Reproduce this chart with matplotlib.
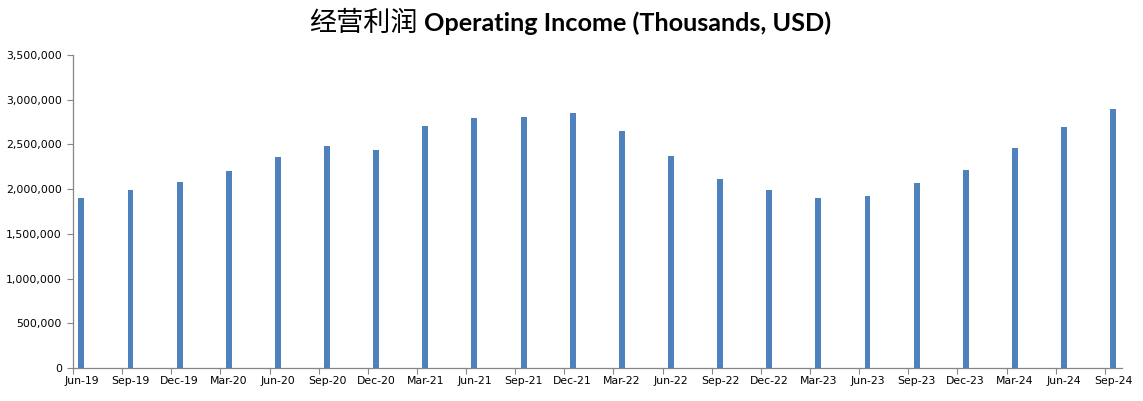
import matplotlib
matplotlib.use("Agg")
import matplotlib.pyplot as plt
import numpy as np
from matplotlib.ticker import FuncFormatter, FixedLocator

categories = ["Jun-19", "Sep-19", "Dec-19", "Mar-20", "Jun-20", "Sep-20", "Dec-20",
              "Mar-21", "Jun-21", "Sep-21", "Dec-21", "Mar-22", "Jun-22", "Sep-22",
              "Dec-22", "Mar-23", "Jun-23", "Sep-23", "Dec-23", "Mar-24", "Jun-24", "Sep-24"]
values = [1902000, 1992000, 2075000, 2207000, 2365000, 2477000, 2443000,
          2707000, 2794000, 2808000, 2850000, 2646000, 2376000, 2116000,
          1992000, 1902000, 1925000, 2071000, 2218000, 2455000, 2692000, 2895000]
yticks = [0, 500000, 1000000, 1500000, 2000000, 2500000, 3000000, 3500000]

title_cn = "经营利润"
title_en = "Operating Income (Thousands, USD)"

fig = plt.figure(figsize=(11.43, 4.01), dpi=100)
ax = fig.add_axes([0.0639, 0.0823, 0.9177, 0.7805])

n = len(categories)
offset = 0.17
ticks = np.arange(n)
xpos = ticks + offset
ax.bar(xpos, values, width=0.12, color="#4F81BD", zorder=3)

ax.set_xlim(0, 21.35)
ax.set_ylim(0, 3500000)

ax.xaxis.set_major_locator(FixedLocator(ticks))
ax.xaxis.set_minor_locator(FixedLocator(xpos))
ax.set_xticklabels([""] * n)
ax.set_xticklabels(categories, minor=True)
ax.tick_params(axis="x", which="major", direction="out", length=4, width=0.8, color="#868686")
ax.tick_params(axis="x", which="minor", length=0, pad=6, labelsize=7.8, labelcolor="black")

ax.set_yticks(yticks)
ax.yaxis.set_major_formatter(FuncFormatter(lambda v, p: f"{int(v):,}"))
ax.tick_params(axis="y", direction="out", length=4, width=0.8, color="#868686",
               labelsize=7.8, pad=4)

for s in ["top", "right"]:
    ax.spines[s].set_visible(False)
for s in ["left", "bottom"]:
    ax.spines[s].set_color("#868686")
    ax.spines[s].set_linewidth(0.9)

fig.text(418 / 1143, 0.942, title_cn, ha="right", va="center",
         family=["Noto Sans CJK SC", "DejaVu Sans"], fontsize=19.5)
fig.text(424 / 1143, 0.942, title_en, ha="left", va="center",
         family=["Lato", "DejaVu Sans"], fontweight="bold", fontsize=18.2)

fig.savefig("out.png", dpi=100)
